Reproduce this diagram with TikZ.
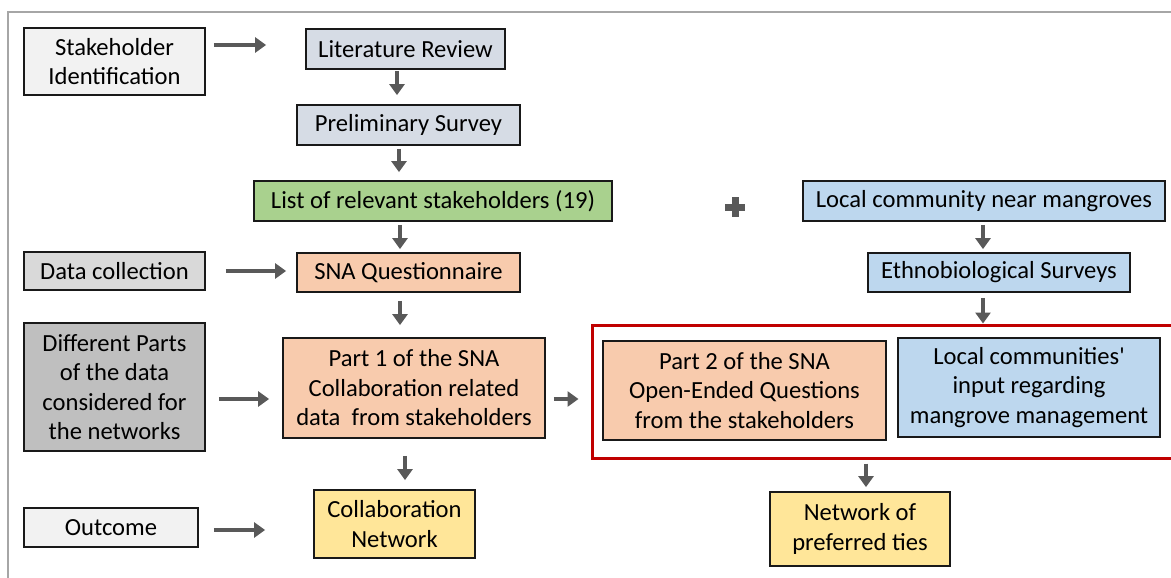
\documentclass[tikz,border=0pt]{standalone}
\usepackage{fontspec}
\setmainfont{Carlito}[Ligatures=TeXOff]
\usetikzlibrary{arrows.meta}
\definecolor{frameg}{HTML}{A6A6A6}
\definecolor{arrg}{HTML}{595959}
\definecolor{lgray}{HTML}{F2F2F2}
\definecolor{mgray}{HTML}{D9D9D9}
\definecolor{dgray}{HTML}{BFBFBF}
\definecolor{slate}{HTML}{D6DCE5}
\definecolor{lgreen}{HTML}{A9D18E}
\definecolor{peach}{HTML}{F8CBAD}
\definecolor{lblue}{HTML}{BDD7EE}
\definecolor{lyellow}{HTML}{FFE699}
\definecolor{dred}{HTML}{C00000}
\tikzset{
  boxst/.style={draw=black!90, line width=1.8pt, inner sep=0pt, align=center,
    font=\fontsize{24.6}{29.5}\selectfont},
  arr/.style={draw=arrg, line width=4.5pt, -{Triangle[length=11pt,width=15pt]}},
}
\newcommand{\mybox}[7]{% name, x1, y1, x2, y2, fill, text
  \node[boxst, fill=#6, minimum width={#4-#2}, minimum height={#5-#3}]
    (#1) at ({(#2+#4)/2},{(#3+#5)/2}) {#7};}
\begin{document}
\begin{tikzpicture}[x=1pt,y=-1pt]
\clip (0,0) rectangle (1171,578);
\fill[white] (0,0) rectangle (1171,578);
\draw[frameg, line width=2pt] (8,600) -- (8,12) -- (1200,12);

\mybox{sid}{24}{28}{205}{95}{lgray}{Stakeholder\\Identification}
\mybox{lr}{306}{29}{505}{69}{slate}{Literature Review}
\mybox{ps}{297}{105}{520}{145}{slate}{Preliminary Survey}
\mybox{lst}{254}{181}{612}{221}{lgreen}{List of relevant stakeholders (19)}
\mybox{lc}{803}{181}{1165}{221}{lblue}{Local community near mangroves}
\mybox{eth}{868}{253}{1130}{292}{lblue}{Ethnobiological Surveys}
\mybox{dc}{24}{252}{205}{290}{mgray}{Data collection}
\mybox{sna}{297}{253}{520}{292}{peach}{SNA Questionnaire}
\mybox{dp}{24}{323}{205}{451}{dgray}{Different Parts\\of the data\\considered for\\the networks}
\mybox{p1}{283}{338}{545}{438}{peach}{Part 1 of the SNA\\Collaboration related\\data\ \ from stakeholders}
\mybox{p2}{603}{341}{886}{440}{peach}{Part 2 of the SNA\\Open-Ended Questions\\from the stakeholders}
\mybox{lci}{898}{338}{1160}{437}{lblue}{Local communities'\\input regarding\\mangrove management}
\mybox{cn}{314}{490}{475}{558}{lyellow}{Collaboration\\Network}
\mybox{np}{770}{492}{950}{566}{lyellow}{Network of\\preferred ties}
\mybox{oc}{24}{508}{198}{547}{lgray}{Outcome}

\node[draw=dred, line width=3pt, inner sep=0pt, minimum width=590pt, minimum height=133pt]
  (red) at (887,391.5) {};

% plus sign
\fill[arrg] (731.5,197) rectangle (738.5,217);
\fill[arrg] (725,203.5) rectangle (745,210.5);

% arrows
\draw[arr] ([xshift=8pt,yshift=16.5pt]sid.east) -- ([xshift=-39pt,yshift=4pt]lr.west);
\draw[arr] ([xshift=-8.5pt,yshift=-1pt]lr.south) -- ([xshift=-11.5pt,yshift=9pt]ps.north);
\draw[arr] ([xshift=-9.5pt,yshift=-3pt]ps.south) -- ([xshift=-34pt,yshift=8pt]lst.north);
\draw[arr] ([xshift=-33pt,yshift=-3pt]lst.south) -- ([xshift=-8.5pt,yshift=3pt]sna.north);
\draw[arr] ([xshift=-1pt,yshift=-3pt]lc.south) -- ([xshift=-16pt,yshift=3pt]eth.north);
\draw[arr] ([xshift=-16pt,yshift=-5pt]eth.south) -- ([xshift=-16pt]eth.south |- red.north);
\draw[arr] ([xshift=20pt]dc.east) -- ([xshift=-10pt,yshift=1.5pt]sna.west);
\draw[arr] ([xshift=-8.5pt,yshift=-8pt]sna.south) -- ([xshift=-14pt,yshift=12pt]p1.north);
\draw[arr] ([xshift=13pt,yshift=-12pt]dp.east) -- ([xshift=-13pt,yshift=-11pt]p1.west);
\draw[arr] ([xshift=8pt,yshift=-11pt]p1.east) -- ([xshift=-12pt,yshift=-7.5pt]red.west);
\draw[arr] ([xshift=-9pt,yshift=-17pt]p1.south) -- ([xshift=10.5pt,yshift=9pt]cn.north);
\draw[arr] ([xshift=-21pt,yshift=-4pt]red.south) -- ([xshift=6pt,yshift=4pt]np.north);
\draw[arr] ([xshift=15pt,yshift=-2.5pt]oc.east) -- ([xshift=-48pt,yshift=-6pt]cn.west);
\end{tikzpicture}
\end{document}
